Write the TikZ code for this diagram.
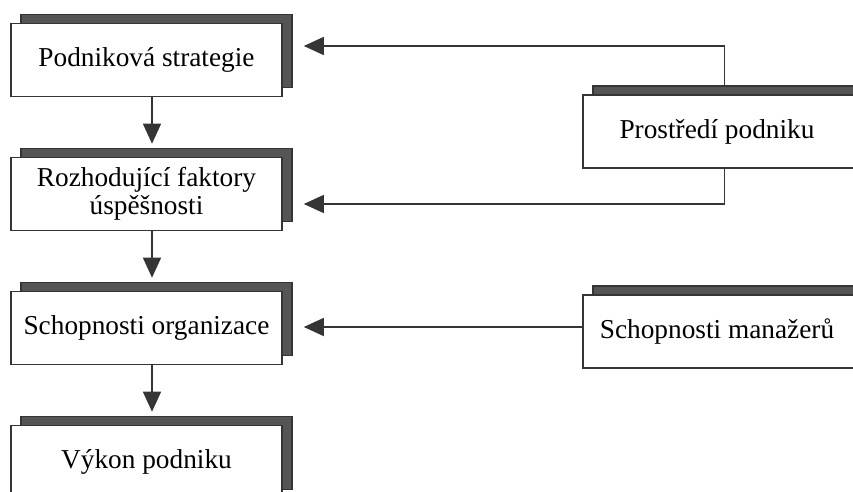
\documentclass[tikz,border=0pt]{standalone}
\usepackage{fontspec}
\setmainfont{Liberation Serif}
\usetikzlibrary{arrows.meta,shadows}
\definecolor{ink}{HTML}{353535}
\definecolor{shade}{HTML}{555555}
\begin{document}
\begin{tikzpicture}[x=1pt,y=-1pt,
  txt/.style={font=\fontsize{27.3}{27.5}\selectfont},
  card/.style={draw=ink, line width=1.6pt, fill=white, minimum height=73pt,
    inner sep=0pt, align=center, txt,
    drop shadow={shadow xshift=10pt, shadow yshift=9pt, fill=shade, draw=ink, opacity=1}},
  leftcard/.style={card, minimum width=271pt},
  rightcard/.style={card, minimum width=283pt},
  lbl/.style={txt, xshift=-7.5pt},
  link/.style={draw=ink, line width=1.5pt},
  arr/.style={link, -{Triangle[length=20pt,width=18pt]}}]

\useasboundingbox (0,0) rectangle (853,492);
\clip (0,0) rectangle (853,492);

% left column: the chain of the firm
\node[leftcard] (strat)   at (146.5,60)  {Podniková strategie};
\node[leftcard] (factors) at (146.5,194) {Rozhodující faktory\\úspěšnosti};
\node[leftcard] (org)     at (146.5,328) {Schopnosti organizace};
\node[leftcard] (perf)    at (146.5,462) {Výkon podniku};

% right column: outside influences
\node[rightcard, label={[lbl]center:Prostředí podniku}] (env) at (724.5,131.5) {};
\node[rightcard, label={[lbl]center:Schopnosti manažerů}] (mgr) at (724.5,331.5) {};

% vertical flow
\coordinate (vx) at (152,0);
\draw[arr, shorten >=13pt] (strat.south -| vx)   -- (factors.north -| vx);
\draw[arr, shorten >=13pt] (factors.south -| vx) -- (org.north -| vx);
\draw[arr, shorten >=13pt] (org.south -| vx)     -- (perf.north -| vx);

% influences from the right
\coordinate (k1) at (0,46);
\coordinate (k2) at (0,204);
\coordinate (k3) at (0,327);
\draw[arr, shorten >=21pt] ([yshift=8pt]env.north) |- (strat.east |- k1);
\draw[arr, shorten >=21pt] (env.south) |- (factors.east |- k2);
\draw[arr, shorten >=21pt] (mgr.west |- k3) -- (org.east |- k3);
\end{tikzpicture}
\end{document}
